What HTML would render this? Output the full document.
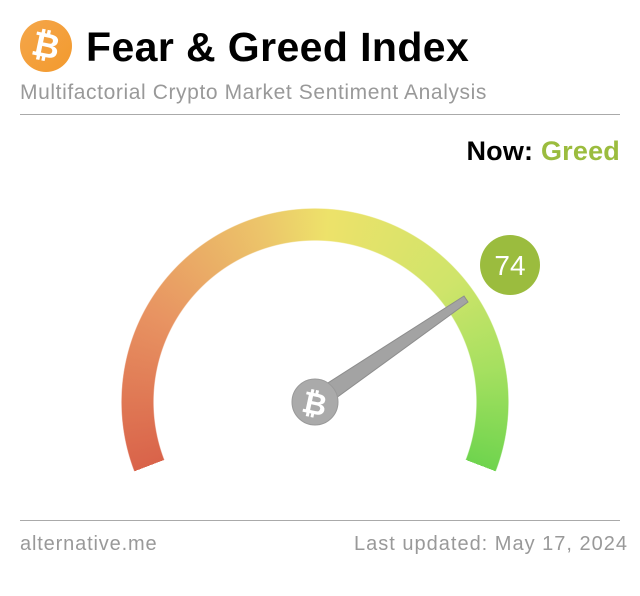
<!DOCTYPE html>
<html><head><meta charset="utf-8"><style>
body{margin:0;width:640px;height:575px;background:#fff;font-family:"Liberation Sans",sans-serif;position:relative;overflow:hidden}
.a{position:absolute;white-space:nowrap}
</style></head><body>
<div class="a" style="left:20px;top:20px;width:52px;height:52px;border-radius:50%;background:linear-gradient(135deg,#f4a64a,#f39a2e);color:#fff;font-weight:bold;font-size:34px;text-align:center;line-height:52px;transform:none"><span style="display:inline-block;transform:rotate(12deg)">₿</span></div>
<div class="a" style="left:86px;top:22px;font-size:41px;font-weight:bold;color:#000;line-height:50px;letter-spacing:0.4px">Fear &amp; Greed Index</div>
<div class="a" style="left:20px;top:80px;font-size:21px;color:#999;line-height:26px;letter-spacing:0.6px">Multifactorial Crypto Market Sentiment Analysis</div>
<div class="a" style="left:20px;top:114px;width:600px;height:1px;background:#aaa"></div>
<div class="a" style="right:20px;top:134px;font-size:27px;font-weight:bold;line-height:34px;letter-spacing:0.2px"><span style="color:#000">Now:</span> <span style="color:#9bbc3e">Greed</span></div>
<div class="a" style="left:121px;top:208px;width:388px;height:388px;border-radius:50%;background:conic-gradient(from 249deg,#d9634a 0deg,#e89462 50deg,#ecc66a 95deg,#ede26a 115deg,#cfe46a 160deg,#a6e060 190deg,#6fd44e 222deg,transparent 222deg);-webkit-mask:radial-gradient(circle,transparent 161px,#000 162px,#000 193px,transparent 194px);mask:radial-gradient(circle,transparent 161px,#000 162px,#000 193px,transparent 194px)"></div>
<svg class="a" style="left:0;top:0" width="640" height="575">
<polygon points="309,395 321,409 468,302 464,296" fill="#a3a3a3" stroke="#8d8d8d" stroke-width="1"/>
<circle cx="315" cy="402" r="23" fill="#aaa" stroke="#999"/>
<text x="315" y="414" text-anchor="middle" font-family="Liberation Sans" font-weight="bold" font-size="30" fill="#fff" transform="rotate(12 315 402)">₿</text>
<circle cx="510" cy="265" r="30" fill="#9bbc3e"/>
<text x="510" y="275" text-anchor="middle" font-family="Liberation Sans" font-size="28" fill="#fff">74</text>
</svg>
<div class="a" style="left:20px;top:520px;width:600px;height:1px;background:#aaa"></div>
<div class="a" style="left:20px;top:531px;font-size:20px;color:#999;line-height:26px;letter-spacing:0.85px">alternative.me</div>
<div class="a" style="right:12px;top:531px;font-size:20px;color:#999;line-height:26px;letter-spacing:1px">Last updated: May 17, 2024</div>
</body></html>
